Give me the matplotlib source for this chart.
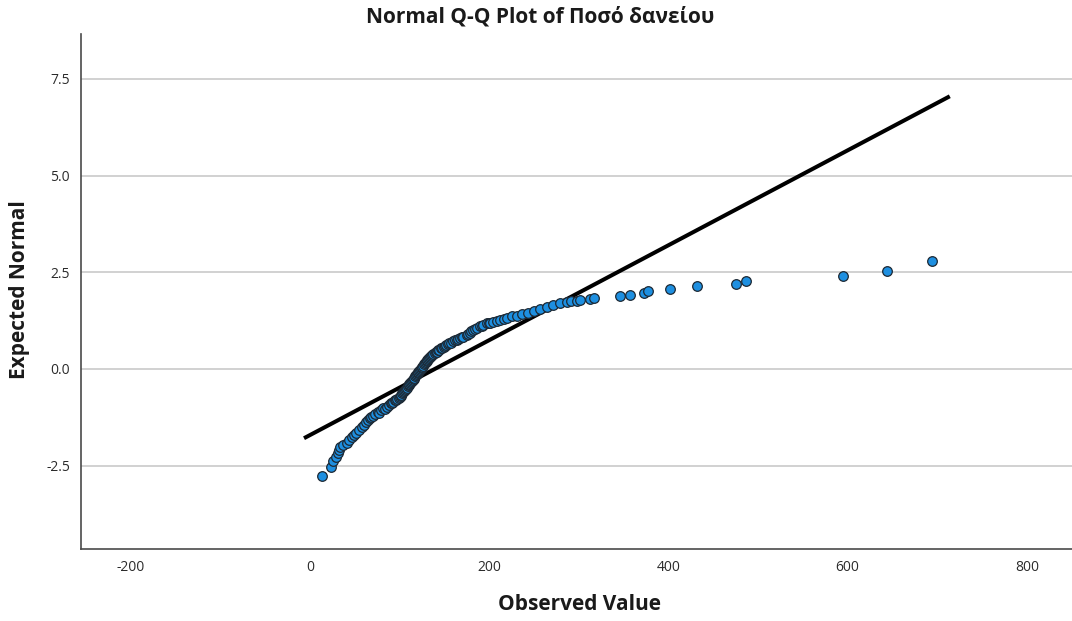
import matplotlib
matplotlib.use("Agg")
import matplotlib.pyplot as plt
import numpy as np

plt.rcParams['font.family'] = ['Open Sans', 'Noto Sans', 'DejaVu Sans']

# Observed loan amounts and their expected normal scores
observed = [
    13.1, 23.1, 26.0, 28.5, 30.7, 32.5, 34.0, 37.0, 41.0, 44.0,
    46.5, 49.0, 51.3, 54.5, 57.7, 60.0, 62.5, 65.0, 67.0, 70.0,
    73.0, 75.9, 79.0, 82.0, 85.6, 88.0, 90.5, 92.6, 95.0, 97.5,
    100.4, 102.0, 104.0, 106.0, 108.0, 110.0, 111.6, 113.5, 115.5, 117.2,
    119.0, 121.0, 122.8, 124.5, 126.5, 128.3, 130.0, 132.0, 133.9, 136.5,
    139.0, 141.4, 144.5, 147.5, 150.7, 154.0, 157.0, 159.9, 163.5, 167.4,
    171.0, 174.9, 178.5, 181.9, 186.0, 189.7, 193.5, 197.5, 201.0, 204.6,
    208.5, 212.1, 216.0, 219.5, 225.4, 230.7, 236.6, 243.6, 250.0, 256.7,
    264.2, 271.5, 279.0, 286.5, 291.3, 297.7, 301.3, 312.5, 317.0, 346.0,
    357.1, 372.8, 377.2, 401.5, 431.9, 475.8, 486.3, 594.9, 644.3, 693.9,
    # heavily tied middle of the distribution
    68.5, 77.5, 84.0, 91.5, 96.0, 99.0, 101.2, 103.0, 105.0, 107.0,
    109.0, 110.8, 112.5, 114.5, 116.3, 118.0, 120.0, 121.9, 123.6, 125.5,
    127.4, 129.2, 131.0, 133.0, 135.0, 137.8, 140.2, 143.0, 146.0, 149.0,
    152.3, 155.5, 161.7, 165.5, 169.2, 176.7, 180.2, 184.0, 191.6, 199.3,
]
expected = [
    -2.76, -2.53, -2.38, -2.27, -2.18, -2.10, -2.02, -1.97, -1.91, -1.83,
    -1.76, -1.71, -1.66, -1.58, -1.50, -1.44, -1.37, -1.33, -1.28, -1.22,
    -1.16, -1.11, -1.06, -1.02, -0.98, -0.93, -0.89, -0.85, -0.81, -0.77,
    -0.72, -0.66, -0.60, -0.54, -0.48, -0.42, -0.37, -0.31, -0.25, -0.19,
    -0.13, -0.08, -0.03, 0.03, 0.09, 0.16, 0.21, 0.27, 0.32, 0.36,
    0.41, 0.45, 0.50, 0.55, 0.59, 0.64, 0.68, 0.72, 0.76, 0.80,
    0.84, 0.88, 0.94, 1.00, 1.05, 1.10, 1.14, 1.18, 1.20, 1.22,
    1.25, 1.27, 1.29, 1.31, 1.36, 1.38, 1.42, 1.46, 1.50, 1.54,
    1.61, 1.66, 1.70, 1.72, 1.75, 1.77, 1.78, 1.80, 1.84, 1.88,
    1.92, 1.97, 2.02, 2.07, 2.14, 2.21, 2.28, 2.41, 2.54, 2.78,
    -1.25, -1.13, -1.04, -0.87, -0.79, -0.74, -0.69, -0.63, -0.57, -0.51,
    -0.45, -0.39, -0.34, -0.28, -0.22, -0.16, -0.10, -0.05, 0.00, 0.06,
    0.12, 0.18, 0.24, 0.29, 0.34, 0.39, 0.43, 0.48, 0.53, 0.57,
    0.62, 0.66, 0.74, 0.78, 0.82, 0.91, 0.97, 1.03, 1.12, 1.19,
]

# Reference line of the fitted normal distribution
fit_mean = 139.2
fit_sd = 81.5
line_x = [-6.7, 714.0]

x_ticks = [-200, 0, 200, 400, 600, 800]
y_ticks = [-2.5, 0.0, 2.5, 5.0, 7.5]

order = np.argsort(observed)
obs = np.asarray(observed)[order]
exp_ = np.asarray(expected)[order]

fig = plt.figure(figsize=(10.72, 6.21), dpi=100)
ax = fig.add_axes([81 / 1072, (621 - 549) / 621, 1 - 81 / 1072, (549 - 33.5) / 621])

ax.set_xlim(-255.6, 850.4)
ax.set_ylim(-4.655, 8.676)

ax.set_yticks(y_ticks)
ax.set_yticklabels([f"{v:.1f}" for v in y_ticks])
ax.set_xticks(x_ticks)
ax.set_xticklabels([str(v) for v in x_ticks])
ax.yaxis.grid(True, color='#c9c9c9', linewidth=1.2)
ax.xaxis.grid(False)
ax.set_axisbelow(True)
ax.tick_params(length=0, labelsize=10, colors='#2b2b2b', pad=8)

for side in ('top', 'right'):
    ax.spines[side].set_visible(False)
for side in ('left', 'bottom'):
    ax.spines[side].set_color('#4a4a4a')
    ax.spines[side].set_linewidth(1.2)

lx = np.array(line_x)
ax.plot(lx, (lx - fit_mean) / fit_sd, color='black', linewidth=2.9, zorder=2,
        solid_capstyle='butt')

ax.scatter(obs, exp_, s=48, color='#1e8fe0', edgecolors='#1c2833',
           linewidths=0.9, zorder=3)

fig.text(540 / 1072, 1 - 17 / 621, "Normal Q-Q Plot of Ποσό δανείου",
         ha='center', va='center', fontsize=15, fontweight='bold', color='#1a1a1a')
fig.text(580 / 1072, 1 - 605 / 621, "Observed Value",
         ha='center', va='center', fontsize=15, fontweight='bold', color='#1a1a1a')
fig.text(20 / 1072, 1 - 290 / 621, "Expected Normal", rotation=90,
         ha='center', va='center', fontsize=15, fontweight='bold', color='#1a1a1a')

fig.savefig("out.png", dpi=100)
